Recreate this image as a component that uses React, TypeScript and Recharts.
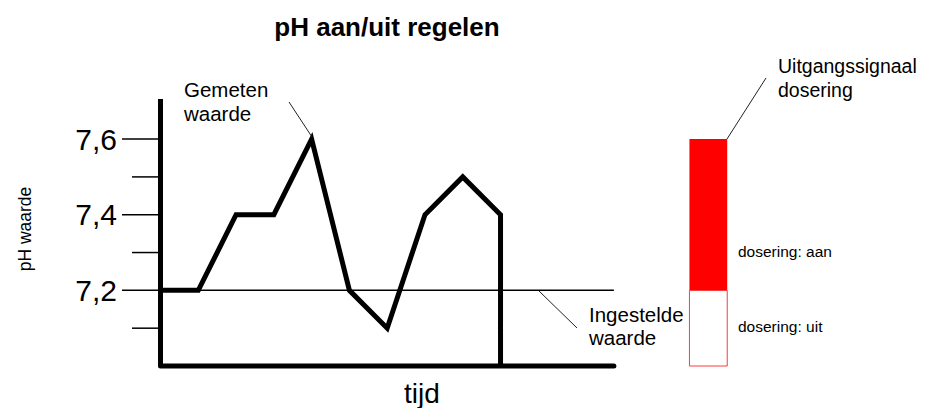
import React from "react";
import {
  ComposedChart,
  Line,
  XAxis,
  YAxis,
  ReferenceLine,
  ReferenceArea,
} from "recharts";

// measured pH over time (last point drops back to the axis)
const timeSteps = [0, 1, 2, 3, 4, 5, 6, 7, 8, 9, 9];
const phValues = [7.2, 7.2, 7.4, 7.4, 7.6, 7.2, 7.1, 7.4, 7.5, 7.4, 7.0];

const yTicks = [7.1, 7.2, 7.3, 7.4, 7.5, 7.6];
const yTickLabels = ["", "7,2", "", "7,4", "", "7,6"];

const setpoint = 7.2;
const timeEnd = 12;

// output signal bar: off below setpoint, on above
const doseSlot = [14, 15];
const doseOff = [7.0, 7.2];
const doseOn = [7.2, 7.6];

const FONT = "'Liberation Sans', Arial, sans-serif";

const data = timeSteps.map((t, i) => ({ t, ph: phValues[i] }));

const PhTick = (props: any) => {
  const { x, y, index } = props;
  const label = yTickLabels[index];
  const major = label !== "";
  return (
    <g>
      <line x1={x - (major ? 38.5 : 28.5)} x2={x} y1={y} y2={y} stroke="#000" strokeWidth={1.5} />
      {major && (
        <text x={x - 43.5} y={y} dy={10.5} textAnchor="end" fontSize={30} fontFamily={FONT} fill="#000">
          {label}
        </text>
      )}
    </g>
  );
};

const App = () => {
  return (
    <div style={{ position: "relative", width: 923, height: 400 }}>
      <ComposedChart
        width={923}
        height={400}
        data={data}
        margin={{ top: 91, right: 166, bottom: 42, left: 0.5 }}
      >
        <XAxis dataKey="t" type="number" domain={[0, 16]} hide />
        <YAxis
          type="number"
          domain={[7.0, 7.706]}
          ticks={yTicks}
          width={152}
          tickSize={0}
          tickMargin={0}
          tickLine={false}
          axisLine={{ stroke: "#000", strokeWidth: 5 }}
          tick={<PhTick />}
          interval={0}
        />
        <ReferenceLine
          segment={[{ x: 0, y: setpoint }, { x: timeEnd, y: setpoint }]}
          stroke="#000"
          strokeWidth={1.5}
        />
        <ReferenceArea
          x1={doseSlot[0]}
          x2={doseSlot[1]}
          y1={doseOff[0]}
          y2={doseOff[1]}
          fill="#fff"
          fillOpacity={1}
          stroke="#ff3b3b"
          strokeWidth={1}
        />
        <ReferenceArea
          x1={doseSlot[0]}
          x2={doseSlot[1]}
          y1={doseOn[0]}
          y2={doseOn[1]}
          fill="#ff0000"
          fillOpacity={1}
          stroke="none"
        />
        <Line
          dataKey="ph"
          type="linear"
          stroke="#000"
          strokeWidth={5}
          strokeLinejoin="miter"
          dot={false}
          activeDot={false}
          isAnimationActive={false}
        />
        <ReferenceLine
          segment={[{ x: 0, y: 7.0 }, { x: timeEnd, y: 7.0 }]}
          stroke="#000"
          strokeWidth={5}
          strokeLinecap="round"
        />
      </ComposedChart>
      <svg
        width={923}
        height={400}
        style={{ position: "absolute", left: 0, top: 0, pointerEvents: "none" }}
        fontFamily={FONT}
      >
        <text x={379} y={28} textAnchor="middle" fontSize={26} fontWeight="bold" fill="#000">
          pH aan/uit regelen
        </text>
        <text x={176} y={89} fontSize={20.5} fill="#000">Gemeten</text>
        <text x={176} y={113} fontSize={20.5} fill="#000">waarde</text>
        <line x1={281} y1={94} x2={304} y2={129} stroke="#222" strokeWidth={1} />
        <text x={581} y={314} fontSize={20.5} fill="#000">Ingestelde</text>
        <text x={581} y={337} fontSize={20.5} fill="#000">waarde</text>
        <line x1={531} y1={283} x2={569} y2={320} stroke="#222" strokeWidth={1} />
        <text x={770} y={65} fontSize={19.5} fill="#000">Uitgangssignaal</text>
        <text x={770} y={89} fontSize={19.5} fill="#000">dosering</text>
        <line x1={758} y1={70} x2={719} y2={131} stroke="#222" strokeWidth={1} />
        <text x={730} y={249} fontSize={15.5} fill="#000">dosering: aan</text>
        <text x={730} y={324} fontSize={15.5} fill="#000">dosering: uit</text>
        <text x={414} y={395} textAnchor="middle" fontSize={28} fill="#000">tijd</text>
        <text
          x={23}
          y={221}
          textAnchor="middle"
          fontSize={17.5}
          fill="#000"
          transform="rotate(-90, 23, 221)"
        >
          pH waarde
        </text>
      </svg>
    </div>
  );
};

export default App;
